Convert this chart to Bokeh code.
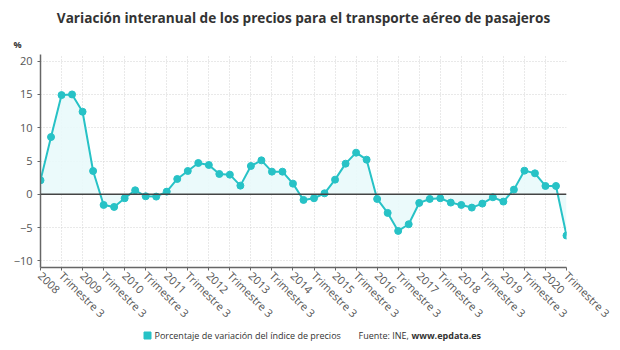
from bokeh.plotting import figure
from bokeh.layouts import column
from bokeh.models import FixedTicker, Span, ColumnDataSource, Range1d, Title
from bokeh.core.properties import value
from bokeh.embed import file_html
from bokeh.resources import INLINE
import math

# Year-on-year change (%) of the air passenger transport price index, quarterly 2008 Q1 - 2020 Q3
years = [str(y) for y in range(2008, 2021)]
quarter_label = "Trimestre 3"
values = [2.1, 8.6, 14.9, 15.0,
          12.4, 3.5, -1.6, -1.9,
          -0.6, 0.6, -0.3, -0.35,
          0.4, 2.3, 3.5, 4.7,
          4.4, 3.05, 2.95, 1.3,
          4.25, 5.1, 3.4, 3.4,
          1.6, -0.85, -0.6, 0.15,
          2.2, 4.6, 6.25, 5.2,
          -0.7, -2.8, -5.5, -4.5,
          -1.3, -0.7, -0.6, -1.25,
          -1.6, -2.0, -1.4, -0.45,
          -1.1, 0.7, 3.55, 3.15,
          1.25, 1.25, -6.2]
y_ticks = [-10, -5, 0, 5, 10, 15, 20]

title_text = "Variación interanual de los precios para el transporte aéreo de pasajeros"
unit_text = "%"
series_name = "Porcentaje de variación del índice de precios"
source_text = "Fuente: INE,"
source_site = "www.epdata.es"

TEAL = "#27c2c6"
FONT = "Open Sans"
GREY = "#555555"
DARK = "#333333"
W = 620
LEFT, RIGHT = 40, 54
FH = 22                      # footer strip height
PH = 350 - FH                # chart height

# main chart
idx = list(range(len(values)))
src = ColumnDataSource(dict(x=idx, y=values, base=[0] * len(values)))

p = figure(width=W, height=PH, output_backend="svg", toolbar_location=None,
           x_range=Range1d(0, len(values) - 1), y_range=Range1d(-11, 21),
           min_border_left=LEFT, min_border_right=RIGHT, min_border_top=52, min_border_bottom=57)
p.outline_line_color = None

# headline and unit, stacked above the frame
p.title.text = title_text
p.title.align = "center"
p.title.offset = 13
p.title.text_font = FONT
p.title.text_font_style = "bold"
p.title.text_font_size = "13.6px"
p.title.text_color = DARK
p.add_layout(Title(text=unit_text, align="left", offset=-27, standoff=8, text_font=FONT,
                   text_font_style="bold", text_font_size="9px", text_color=DARK), "above")

p.varea(x="x", y1="base", y2="y", source=src, fill_color="#e9f9fb", fill_alpha=0.9)
p.add_layout(Span(location=0, dimension="width", line_color="#444444", line_width=1.5))
p.line(x="x", y="y", source=src, line_color=TEAL, line_width=2)
p.scatter(x="x", y="y", source=src, size=7, fill_color=TEAL, line_color=TEAL)

# x axis: one tick every two quarters (Q1 -> year, Q3 -> "Trimestre 3")
tick_pos = list(range(0, len(values), 2))
tick_text = []
for y in years:
    tick_text += [y, quarter_label]
p.xaxis.ticker = FixedTicker(ticks=tick_pos)
p.xaxis.major_label_overrides = {t: s for t, s in zip(tick_pos, tick_text)}
p.xaxis.major_label_orientation = -math.pi / 4
p.xaxis.major_label_standoff = 3
p.yaxis.ticker = FixedTicker(ticks=y_ticks)

for ax in (p.xaxis, p.yaxis):
    ax.axis_line_color = "#666666"
    ax.axis_line_width = 1.5
    ax.major_tick_line_color = "#666666"
    ax.major_tick_out = 3
    ax.major_tick_in = 0
    ax.minor_tick_line_color = None
    ax.major_label_text_font = FONT
    ax.major_label_text_font_size = "11px"
    ax.major_label_text_color = GREY

for g in (p.xgrid, p.ygrid):
    g.grid_line_color = "#d3d3d3"
    g.grid_line_dash = "1 2"
    g.grid_line_width = 1
p.xgrid.ticker = FixedTicker(ticks=tick_pos)

# footer strip: its frame spans the same pixels as the chart frame, data units = pixels
foot = figure(width=W, height=FH, output_backend="svg", toolbar_location=None,
              x_range=Range1d(LEFT, W - RIGHT), y_range=Range1d(FH, 0),
              min_border_left=LEFT, min_border_right=RIGHT, min_border_top=0, min_border_bottom=0,
              outline_line_color=None)
foot.axis.visible = False
foot.grid.visible = False
foot.scatter(x=[147], y=[7], marker="square", size=7, fill_color=TEAL, line_color=TEAL)
foot.text(x=[154], y=[7], text=[series_name], text_font=value(FONT),
          text_font_size="9px", text_color=DARK, text_align="left", text_baseline="middle")
foot.text(x=[358], y=[7], text=[source_text], text_font=value(FONT),
          text_font_size="9px", text_color=DARK, text_align="left", text_baseline="middle")
foot.text(x=[411], y=[7], text=[source_site], text_font=value(FONT), text_font_style="bold",
          text_font_size="9px", text_color=DARK, text_align="left", text_baseline="middle")

layout = column(p, foot, spacing=0)
open("out.html", "w").write(file_html(layout, INLINE))
